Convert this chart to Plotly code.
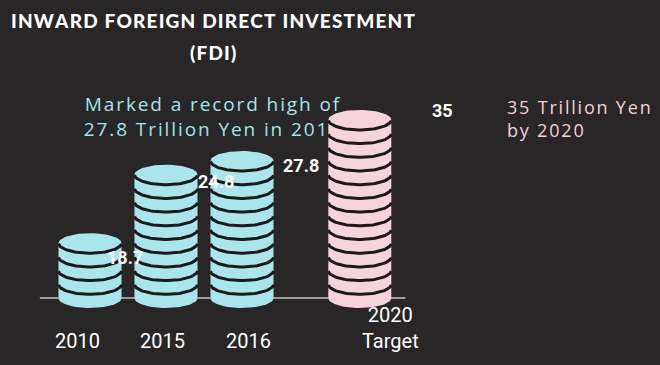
import numpy as np
import plotly.graph_objects as go

# ---------------- data ----------------
categories = ["2010", "2015", "2016", "2020<br>Target"]
values = [18.7, 24.8, 27.8, 35]
value_labels = ["18.7", "24.8", "27.8", "35"]
coin_counts = [4, 9, 10, 13]          # coins drawn in each stack
is_target = [False, False, False, True]
title_lines = ["INWARD FOREIGN DIRECT INVESTMENT", "(FDI)"]
note_actual = ["Marked a record high of", "27.8 Trillion Yen in 2016"]
note_target = ["35 Trillion Yen", "by 2020"]

# ---------------- style / layout constants ----------------
BG = "#292627"
ACTUAL = "#a9e5eb"
TARGET = "#f5d4dc"
EDGE = "#1d191a"
W, H = 660, 365
PX_X = 76.0          # pixels per x unit
PX_Y = 13.7          # pixels per coin
X0_PX = 90.0         # pixel of first category
BASE_PX = 298.0      # pixel of baseline
TARGET_GAP = 0.55
RX = 31.5 / PX_X
RY = 10.0 / PX_Y

label_dx = [35, 50, 59, 83]     # value label offsets (px)
label_dy = [24, 17, 14, 1]
cat_dx = [-13, -4, 6, 31]       # category label offsets (px)

HS = "\u200a"


def spaced(s):
    return HS.join(list(s))


def px_x(p):
    return (p - X0_PX) / PX_X


def px_y(p):
    return (BASE_PX - p) / PX_Y


x_pos = [i + (TARGET_GAP if t else 0.0) for i, t in enumerate(is_target)]

fig = go.Figure()

# note behind the stacks
fig.add_trace(go.Scatter(
    x=[px_x(212)], y=[px_y(118.5)], mode="text",
    text=["<br>".join(spaced(s) for s in note_actual)], textposition="middle center",
    textfont=dict(family="Open Sans", size=19, color="#a6e2e8"),
    hoverinfo="skip", showlegend=False))

# coin stacks
for xc, n, tgt in zip(x_pos, coin_counts, is_target):
    col = TARGET if tgt else ACTUAL
    th_b = np.linspace(np.pi, 2 * np.pi, 40)
    th_t = np.linspace(0, np.pi, 40)
    sx = np.concatenate([xc + RX * np.cos(th_b), xc + RX * np.cos(th_t)])
    sy = np.concatenate([0 + RY * np.sin(th_b), n + RY * np.sin(th_t)])
    fig.add_trace(go.Scatter(x=sx, y=sy, mode="lines", fill="toself",
                             fillcolor=col, line=dict(width=0, color=col),
                             hoverinfo="skip", showlegend=False))
    ax, ay = [], []
    th = np.linspace(np.pi + 0.06, 2 * np.pi - 0.06, 40)
    for k in range(1, n + 1):
        ax += list(xc + RX * np.cos(th)) + [None]
        ay += list(k + RY * np.sin(th)) + [None]
    fig.add_trace(go.Scatter(x=ax, y=ay, mode="lines",
                             line=dict(width=3, color=EDGE),
                             hoverinfo="skip", showlegend=False))

# baseline behind stacks
fig.add_shape(type="line", xref="x", yref="y", layer="below",
              x0=x_pos[0] - 0.66, x1=x_pos[-1] + 0.6, y0=0, y1=0,
              line=dict(color="#9c9a9b", width=2))

# value labels
for xc, n, lab, dx, dy in zip(x_pos, coin_counts, value_labels, label_dx, label_dy):
    fig.add_annotation(x=xc, y=n + RY, text=lab, showarrow=False,
                       xshift=dx, yshift=-dy, yanchor="middle",
                       font=dict(family="Roboto", size=18, color="white", weight="bold"))

# category labels (bottom line aligned)
for xc, cat, dx in zip(x_pos, categories, cat_dx):
    nl = cat.count("<br>") + 1
    fig.add_annotation(x=xc, y=px_y(342 + 13), text=cat, showarrow=False,
                       xshift=dx, yanchor="bottom", align="center",
                       font=dict(family="Roboto", size=20, color="white"))

# target note
fig.add_annotation(xref="paper", yref="paper", x=505 / W, y=1 - 118.5 / H,
                   text="<br>".join(spaced(s) for s in note_target), showarrow=False,
                   xanchor="left", yanchor="middle", align="left",
                   font=dict(family="Open Sans", size=18, color="#f2d0d8"))

# title
fig.add_annotation(xref="paper", yref="paper", x=213 / W, y=1 - 20 / H,
                   text=spaced(title_lines[0]), showarrow=False,
                   xanchor="center", yanchor="middle",
                   font=dict(family="Lato", size=19, color="white", weight=900))
fig.add_annotation(xref="paper", yref="paper", x=213 / W, y=1 - 53 / H,
                   text=spaced(title_lines[1]), showarrow=False,
                   xanchor="center", yanchor="middle",
                   font=dict(family="Lato", size=19, color="white", weight=900))

fig.update_layout(
    width=W, height=H, margin=dict(l=0, r=0, t=0, b=0),
    paper_bgcolor=BG, plot_bgcolor=BG,
    xaxis=dict(range=[px_x(0), px_x(W)], visible=False, fixedrange=True),
    yaxis=dict(range=[px_y(H), px_y(0)], visible=False, fixedrange=True),
    showlegend=False,
)

fig.write_html("out.html", config={"displayModeBar": False},
               post_script="document.body.style.margin='0';"
                           "document.body.style.overflow='hidden';"
                           "document.body.style.background='" + BG + "';")
